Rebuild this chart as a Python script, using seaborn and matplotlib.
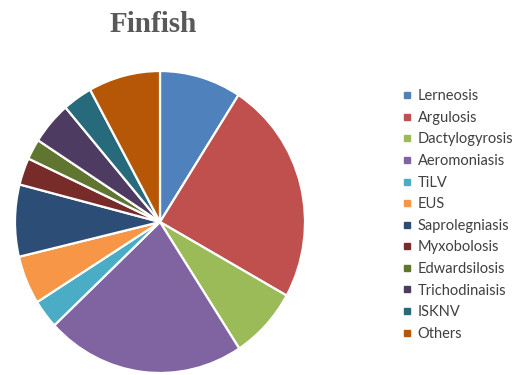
import matplotlib
matplotlib.use("Agg")
import matplotlib.pyplot as plt
from matplotlib.lines import Line2D
import seaborn as sns

# Share of reported disease cases in finfish (%)
diseases = ["Lerneosis", "Argulosis", "Dactylogyrosis", "Aeromoniasis", "TiLV", "EUS",
            "Saprolegniasis", "Myxobolosis", "Edwardsilosis", "Trichodinaisis", "ISKNV", "Others"]
shares = [9.1, 24.0, 7.7, 22.2, 3.1, 5.2, 7.7, 2.9, 2.2, 4.6, 3.3, 8.0]
colors = ["#4F81BD", "#C0504D", "#9BBB59", "#8064A2", "#4BACC6", "#F79646",
          "#2C4D75", "#772C2A", "#5F7530", "#4D3B62", "#276A7C", "#B65708"]

sns.set_theme(style="white")
palette = sns.color_palette(colors)

W, H = 525, 375
fig = plt.figure(figsize=(W / 100, H / 100), dpi=100)
fig.patch.set_facecolor("white")

# pie axes placed in pixel coordinates
cx, cy, rx, ry = 160, 222, 145, 151
ax = fig.add_axes([(cx - rx) / W, 1 - (cy + ry) / H, 2 * rx / W, 2 * ry / H])
wedges, _ = ax.pie(shares, colors=palette, startangle=90, counterclock=False,
                   wedgeprops=dict(edgecolor="white", linewidth=1.6))
ax.set_xlim(-1, 1)
ax.set_ylim(-1, 1)
ax.set_aspect("auto")
ax.axis("off")

fig.text(153 / W, 1 - 24 / H, "Finfish", ha="center", va="center",
         fontsize=21, fontweight="bold", family="Liberation Serif", color="#595959")

handles = [Line2D([], [], marker="s", linestyle="none", markersize=5,
                  markerfacecolor=c, markeredgecolor=c) for c in palette]
leg = fig.legend(handles, diseases, loc="upper left",
                 bbox_to_anchor=(395 / W, 1 - 82 / H), frameon=False,
                 handlelength=0.6, handletextpad=0.45, labelspacing=0.52,
                 borderpad=0, prop=dict(family="Lato", size=10.5))
for t in leg.get_texts():
    t.set_color("#404040")

fig.savefig("out.png", dpi=100, facecolor="white")
